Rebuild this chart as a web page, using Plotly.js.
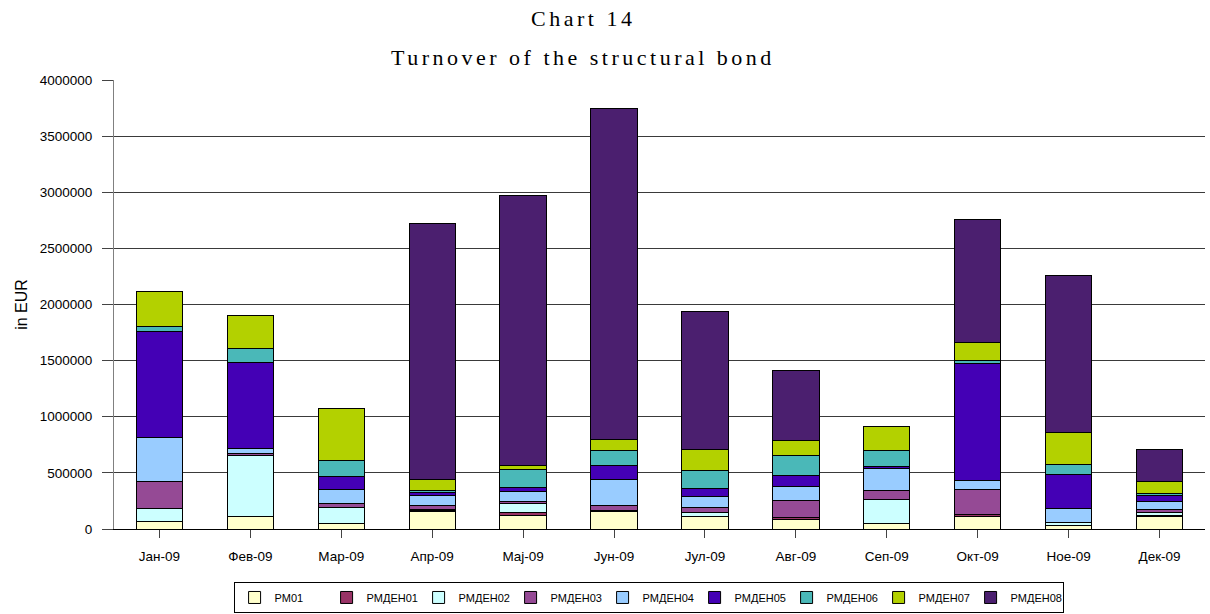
<!DOCTYPE html>
<html>
<head>
<meta charset="utf-8">
<script src="https://cdn.plot.ly/plotly-3.0.1.min.js"></script>
<style>
html,body{margin:0;padding:0;background:#fff;}
#chart{width:1210px;height:614px;}
.annotation-text{letter-spacing:3.5px;}
</style>
</head>
<body>
<div id="chart"></div>
<script>
const months = ["Јан-09","Фев-09","Мар-09","Апр-09","Мај-09","Јун-09","Јул-09","Авг-09","Сеп-09","Окт-09","Ное-09","Дек-09"];
const seriesNames = ["РМ01","РМДЕН01","РМДЕН02","РМДЕН03","РМДЕН04","РМДЕН05","РМДЕН06","РМДЕН07","РМДЕН08"];
const RM01    = [69000,110000,53000,156000,118000,158000,107000,86000,51000,113000,27000,110000];
const RMDEN01 = [0,0,0,9000,31000,11000,0,15000,0,14000,0,12000];
const RMDEN02 = [112000,549000,137000,10000,74000,0,44000,0,214000,0,33000,27000];
const RMDEN03 = [240000,18000,35000,30000,20000,36000,45000,151000,82000,229000,0,29000];
const RMDEN04 = [392000,38000,125000,95000,93000,238000,95000,125000,188000,74000,124000,63000];
const RMDEN05 = [945000,764000,119000,23000,35000,121000,74000,101000,26000,1046000,303000,59000];
const RMDEN06 = [48000,125000,139000,24000,161000,134000,154000,175000,134000,23000,89000,12000];
const RMDEN07 = [314000,294000,467000,96000,38000,95000,185000,134000,220000,164000,282000,109000];
const RMDEN08 = [0,0,0,2280000,2397000,2949000,1238000,623000,0,1090000,1396000,283000];
const yTicks = [0,500000,1000000,1500000,2000000,2500000,3000000,3500000,4000000];

const values = [RM01,RMDEN01,RMDEN02,RMDEN03,RMDEN04,RMDEN05,RMDEN06,RMDEN07,RMDEN08];
const colors = ["#FFFFCC","#993366","#CCFFFF","#954A95","#99CCFF","#4400B5","#4AB8B8","#B3D100","#4B1F6F"];

const traces = seriesNames.map((n,i)=>({
  type:'bar', name:n, x:months, y:values[i],
  marker:{color:colors[i], line:{color:'#000', width:1}},
  hoverinfo:'skip'
}));

const layout = {
  width:1210, height:614,
  margin:{l:114, r:5, t:80, b:85, autoexpand:false},
  barmode:'stack', bargap:0.49,
  paper_bgcolor:'#fff', plot_bgcolor:'#fff',
  font:{family:'Arial, Liberation Sans, sans-serif', size:13, color:'#000'},
  showlegend:true,
  legend:{orientation:'h', x:0.49, xanchor:'center', y:-0.118, yanchor:'top',
    bordercolor:'#000', borderwidth:1, bgcolor:'#fff', traceorder:'normal',
    font:{size:11, family:'Arial, Liberation Sans, sans-serif'}, itemwidth:30,
    entrywidth:47, entrywidthmode:'pixels'},
  xaxis:{type:'category', showline:true, linecolor:'#000', linewidth:1,
    ticks:'outside', ticklen:8, tickcolor:'#444', showgrid:false,
    ticklabelstandoff:7, tickfont:{size:13.5}, fixedrange:true},
  yaxis:{range:[0,4000000], tickvals:yTicks, ticktext:yTicks.map(v=>String(v)),
    showline:true, linecolor:'#808080', linewidth:1,
    ticks:'outside', ticklen:11, tickcolor:'#444',
    showgrid:true, gridcolor:'#3a3a3a', gridwidth:1, zeroline:false,
    ticklabelstandoff:7, tickfont:{size:13.5},
    title:{text:'in EUR', font:{size:16}, standoff:8}, fixedrange:true},
  annotations:[
    {text:'Chart 14', xref:'paper', yref:'paper', x:0.43, y:1.138, xanchor:'center', yanchor:'middle', showarrow:false,
     font:{family:'Liberation Serif, Times New Roman, serif', size:22, color:'#000'}},
    {text:'Turnover of the structural bond', xref:'paper', yref:'paper', x:0.43, y:1.051, xanchor:'center', yanchor:'middle', showarrow:false,
     font:{family:'Liberation Serif, Times New Roman, serif', size:22, color:'#000'}}
  ]
};

Plotly.newPlot('chart', traces, layout, {displayModeBar:false, staticPlot:true});
</script>
</body>
</html>
